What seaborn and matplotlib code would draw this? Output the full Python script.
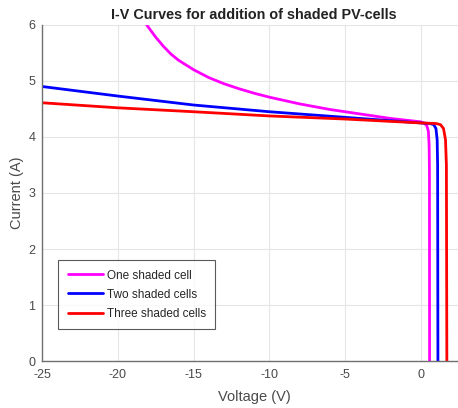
import pandas as pd
import seaborn as sns
import matplotlib.pyplot as plt

# values
v_one = [-18.1, -17.5, -17.0, -16.5, -16.0, -15.0, -14.0, -13.0, -12.0, -11.0, -10.0,
         -9.0, -8.0, -7.0, -6.0, -5.0, -4.0, -3.0, -2.0, -1.0, 0.0,
         0.25, 0.4, 0.5, 0.55, 0.57, 0.58]
i_one = [6.0, 5.78, 5.62, 5.48, 5.37, 5.2, 5.06, 4.95, 4.86, 4.78, 4.71,
         4.65, 4.59, 4.54, 4.49, 4.45, 4.41, 4.37, 4.33, 4.3, 4.27,
         4.24, 4.2, 4.1, 3.85, 3.4, 0.0]

v_two = [-25.0, -20.0, -15.0, -10.0, -5.0, 0.0, 0.6, 0.85, 1.0, 1.08, 1.11, 1.13]
i_two = [4.9, 4.73, 4.57, 4.45, 4.35, 4.25, 4.24, 4.22, 4.15, 3.95, 3.5, 0.0]

v_three = [-25.0, -20.0, -15.0, -10.0, -5.0, 0.0, 1.0, 1.3, 1.5, 1.63, 1.69, 1.72]
i_three = [4.61, 4.52, 4.45, 4.375, 4.32, 4.25, 4.24, 4.22, 4.15, 3.95, 3.5, 0.0]

labels = ["One shaded cell", "Two shaded cells", "Three shaded cells"]
colors = ["#ff00ff", "#0000ff", "#ff0000"]

frames = []
for lab, v, i in zip(labels, [v_one, v_two, v_three], [i_one, i_two, i_three]):
    frames.append(pd.DataFrame({"Voltage (V)": v, "Current (A)": i, "curve": lab}))
data = pd.concat(frames, ignore_index=True)

sns.set_style("whitegrid")
plt.rcParams['font.family'] = ['Liberation Sans', 'DejaVu Sans']
plt.rcParams['axes.unicode_minus'] = False

fig = plt.figure(figsize=(4.58, 4.08), dpi=100)
# axes run a little past the right edge of the picture, as in the reference
ax = fig.add_axes([0.092, 0.115, 0.926, 0.824])

sns.lineplot(data=data, x="Voltage (V)", y="Current (A)", hue="curve",
             palette=colors, sort=False, estimator=None, linewidth=2.0, ax=ax)

ax.set_xlim(-25, 3)
ax.set_ylim(0, 6)
ax.set_xticks([-25, -20, -15, -10, -5, 0])
ax.set_yticks([0, 1, 2, 3, 4, 5, 6])
ax.grid(True, color="#e6e6e6", linewidth=0.8)
for s in ["top", "right"]:
    ax.spines[s].set_visible(False)
for s in ["left", "bottom"]:
    ax.spines[s].set_color("#707070")
    ax.spines[s].set_linewidth(1.0)
ax.tick_params(axis="both", direction="in", length=3, color="#707070",
               labelcolor="#4a4a4a", labelsize=9)
ax.tick_params(axis="x", pad=6)
ax.tick_params(axis="y", pad=5)
ax.set_xlabel("Voltage (V)", fontsize=10.5, color="#4a4a4a", labelpad=6)
ax.set_ylabel("Current (A)", fontsize=10.5, color="#4a4a4a", labelpad=3)
ax.set_title("I-V Curves for addition of shaded PV-cells", fontsize=10.4,
             fontweight="bold", color="#222222", pad=4)

leg = ax.legend(loc="lower left", bbox_to_anchor=(0.0377, 0.095), fontsize=8.5,
                frameon=True, fancybox=False, handlelength=3.0,
                handletextpad=0.3, borderpad=0.8, labelspacing=0.6,
                borderaxespad=0)
leg.get_frame().set_edgecolor("#303030")
leg.get_frame().set_linewidth(0.8)
leg.set_title(None)

fig.savefig("out.png", dpi=100)
